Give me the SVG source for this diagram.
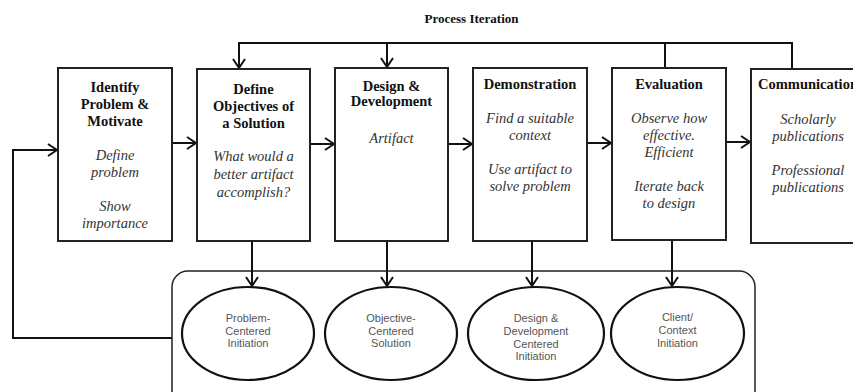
<svg xmlns="http://www.w3.org/2000/svg" width="853" height="392" viewBox="0 0 853 392">
<style>
.box{fill:#fff;stroke:#222;stroke-width:2}
.ell{fill:#fff;stroke:#111;stroke-width:2.2}
.con{fill:none;stroke:#111;stroke-width:2}
.ttl{font-family:"Liberation Serif",serif;font-weight:bold;font-size:14.5px;fill:#111;text-anchor:middle}
.it{font-family:"Liberation Serif",serif;font-style:italic;font-size:14.5px;fill:#333;text-anchor:middle}
.el{font-family:"Liberation Sans",Arial,sans-serif;font-size:11px;fill:#555;text-anchor:middle}
</style>
<defs>
<marker id="ah" markerUnits="userSpaceOnUse" markerWidth="14" markerHeight="16" refX="10" refY="7" orient="auto">
<path d="M1,1 L10,7 L1,13" fill="none" stroke="#111" stroke-width="2"/>
</marker>
</defs>
<rect width="853" height="392" fill="#fff"/>
<text x="471.5" y="23" class="ttl" style="font-size:13px">Process Iteration</text>

<g id="container"><rect x="172" y="271" width="583" height="135" rx="16" fill="none" stroke="#222" stroke-width="1.5"/></g>

<g id="connectors">
<path class="con" d="M792,69 V43 H239 V68" marker-end="url(#ah)"/>
<path class="con" d="M387,43 V67" marker-end="url(#ah)"/>
<path class="con" d="M665,68 V43"/>
<path class="con" d="M172,143 H196" marker-end="url(#ah)"/>
<path class="con" d="M310,144 H334" marker-end="url(#ah)"/>
<path class="con" d="M448,144 H472" marker-end="url(#ah)"/>
<path class="con" d="M587,143 H611" marker-end="url(#ah)"/>
<path class="con" d="M726,142 H750" marker-end="url(#ah)"/>
<path class="con" d="M172,338 H13 V150 H57" marker-end="url(#ah)"/>
<path class="con" d="M252,241 V286" marker-end="url(#ah)"/>
<path class="con" d="M387,241 V286" marker-end="url(#ah)"/>
<path class="con" d="M532,241 V286" marker-end="url(#ah)"/>
<path class="con" d="M672,240 V286" marker-end="url(#ah)"/>
</g>

<g id="n1"><rect class="box" x="58" y="68" width="114" height="173"/>
<text class="ttl" x="115"><tspan x="115" y="92">Identify</tspan><tspan x="115" y="109">Problem &amp;</tspan><tspan x="115" y="126">Motivate</tspan></text>
<text class="it"><tspan x="115" y="160">Define</tspan><tspan x="115" y="177">problem</tspan><tspan x="115" y="211">Show</tspan><tspan x="115" y="228">importance</tspan></text></g>

<g id="n2"><rect class="box" x="197" y="69" width="113" height="172"/>
<text class="ttl"><tspan x="253.5" y="94">Define</tspan><tspan x="253.5" y="111">Objectives of</tspan><tspan x="253.5" y="128">a Solution</tspan></text>
<text class="it"><tspan x="253.5" y="161">What would a</tspan><tspan x="253.5" y="179">better artifact</tspan><tspan x="253.5" y="197">accomplish?</tspan></text></g>

<g id="n3"><rect class="box" x="335" y="68" width="113" height="173"/>
<text class="ttl"><tspan x="391.5" y="91">Design &amp;</tspan><tspan x="391.5" y="106">Development</tspan></text>
<text class="it"><tspan x="391.5" y="143">Artifact</tspan></text></g>

<g id="n4"><rect class="box" x="473" y="68" width="114" height="173"/>
<text class="ttl"><tspan x="530" y="89">Demonstration</tspan></text>
<text class="it"><tspan x="530" y="123">Find a suitable</tspan><tspan x="530" y="140">context</tspan><tspan x="530" y="174">Use artifact to</tspan><tspan x="530" y="191">solve problem</tspan></text></g>

<g id="n5"><rect class="box" x="612" y="68" width="114" height="172"/>
<text class="ttl"><tspan x="669" y="89">Evaluation</tspan></text>
<text class="it"><tspan x="669" y="123">Observe how</tspan><tspan x="669" y="140">effective.</tspan><tspan x="669" y="157">Efficient</tspan><tspan x="669" y="191">Iterate back</tspan><tspan x="669" y="208">to design</tspan></text></g>

<g id="n6"><rect class="box" x="751" y="69" width="114" height="174"/>
<text class="ttl"><tspan x="808" y="89">Communication</tspan></text>
<text class="it"><tspan x="808" y="124">Scholarly</tspan><tspan x="808" y="141">publications</tspan><tspan x="808" y="175">Professional</tspan><tspan x="808" y="192">publications</tspan></text></g>

<g id="e1"><ellipse class="ell" cx="248" cy="333.5" rx="66" ry="46.5"/>
<text class="el"><tspan x="248" y="322">Problem-</tspan><tspan x="248" y="334.5">Centered</tspan><tspan x="248" y="347">Initiation</tspan></text></g>
<g id="e2"><ellipse class="ell" cx="391" cy="333.5" rx="66" ry="46.5"/>
<text class="el"><tspan x="391" y="322">Objective-</tspan><tspan x="391" y="334.5">Centered</tspan><tspan x="391" y="347">Solution</tspan></text></g>
<g id="e3"><ellipse class="ell" cx="536" cy="333.5" rx="68" ry="46.5"/>
<text class="el"><tspan x="536" y="322">Design &amp;</tspan><tspan x="536" y="334.5">Development</tspan><tspan x="536" y="347.5">Centered</tspan><tspan x="536" y="360">Initiation</tspan></text></g>
<g id="e4"><ellipse class="ell" cx="677.5" cy="333.5" rx="66.5" ry="46.5"/>
<text class="el"><tspan x="677.5" y="321">Client/</tspan><tspan x="677.5" y="334">Context</tspan><tspan x="677.5" y="347">Initiation</tspan></text></g>
</svg>
